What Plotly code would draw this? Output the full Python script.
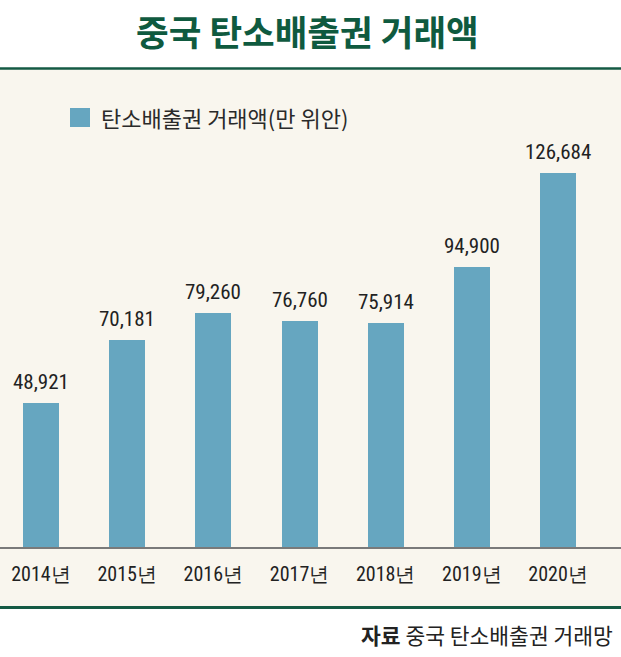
import plotly.graph_objects as go

years = ["2014년", "2015년", "2016년", "2017년", "2018년", "2019년", "2020년"]
values = [48921, 70181, 79260, 76760, 75914, 94900, 126684]
value_labels = ["48,921", "70,181", "79,260", "76,760", "75,914", "94,900", "126,684"]

title_text = "중국 탄소배출권 거래액"
legend_text = "탄소배출권 거래액(만 위안)"
source_text = "<b>자료</b> 중국 탄소배출권 거래망"

W, H = 621, 657
BAR = "#66a6c0"
GREEN = "#145a44"
CREAM = "#f9f6ee"
NUM_FONT = "Liberation Sans Narrow, Roboto Condensed, Roboto, sans-serif"
KR_FONT = "Noto Sans CJK KR, Noto Sans, sans-serif"


def py(ypx):
    return 1 - ypx / H


def px(xpx):
    return xpx / W


xpos = list(range(len(years)))

fig = go.Figure()
fig.add_trace(go.Bar(
    x=xpos, y=values, width=0.418, marker=dict(color=BAR, line=dict(width=0)),
    showlegend=False, hoverinfo="skip",
))

annotations = []
for x, v, lab in zip(xpos, values, value_labels):
    annotations.append(dict(
        x=x, y=v, xref="x", yref="y", text=lab, showarrow=False,
        yanchor="bottom", yshift=7,
        font=dict(family=NUM_FONT, size=21, color="#222222"),
    ))

annotations.append(dict(
    x=px(307), y=py(30), xref="paper", yref="paper", text="<b>" + title_text + "</b>",
    showarrow=False, xanchor="center", yanchor="middle",
    font=dict(family=KR_FONT, size=35.5, color="#0f5a3f"),
))
annotations.append(dict(
    x=px(99), y=py(117), xref="paper", yref="paper", text=legend_text,
    showarrow=False, xanchor="left", yanchor="middle",
    font=dict(family=KR_FONT, size=22, color="#2a2a2a"),
))
annotations.append(dict(
    x=px(615), y=py(634), xref="paper", yref="paper", text=source_text,
    showarrow=False, xanchor="right", yanchor="middle",
    font=dict(family=KR_FONT, size=21.5, color="#222222"),
))

shapes = [
    dict(type="rect", xref="paper", yref="paper", x0=0, x1=1,
         y0=py(607), y1=py(69), fillcolor=CREAM, line=dict(width=0), layer="below"),
    dict(type="line", xref="paper", yref="paper", x0=0, x1=1,
         y0=py(68.5), y1=py(68.5), line=dict(color=GREEN, width=2.5)),
    dict(type="line", xref="paper", yref="paper", x0=0, x1=1,
         y0=py(607.5), y1=py(607.5), line=dict(color=GREEN, width=3)),
    dict(type="rect", xref="paper", yref="paper", x0=px(70), x1=px(90),
         y0=py(127), y1=py(108), fillcolor=BAR, line=dict(width=0)),
]

px_per_cat = 86.17
left = -41 / px_per_cat
right = (W - 41) / px_per_cat
ymax = (547 - 69) * 339

fig.update_layout(
    width=W, height=H,
    margin=dict(l=0, r=0, t=0, b=0, pad=0),
    paper_bgcolor="white", plot_bgcolor="rgba(0,0,0,0)",
    xaxis=dict(
        range=[left, right], tickmode="array", tickvals=xpos, ticktext=years,
        showgrid=False, zeroline=False, showline=True, linecolor="#7a7a7a", linewidth=1.5,
        ticks="", ticklabelstandoff=8, automargin=False,
        tickfont=dict(family=NUM_FONT, size=20, color="#222222"),
    ),
    yaxis=dict(range=[0, ymax], domain=[py(547), py(69)], visible=False,
               showgrid=False, zeroline=False, automargin=False),
    annotations=annotations, shapes=shapes,
    bargap=0,
)

fig.write_html("out.html", config={"displayModeBar": False},
               post_script="document.body.style.margin='0px';")
